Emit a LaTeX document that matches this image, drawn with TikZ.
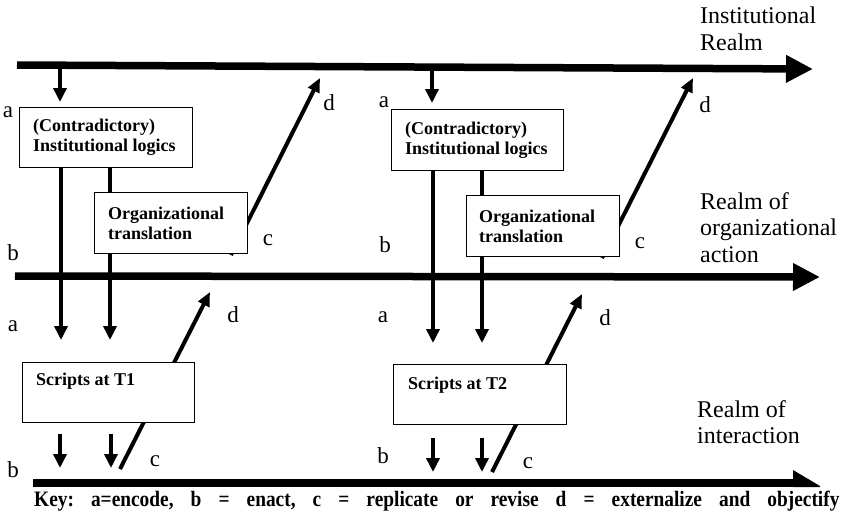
\documentclass[tikz,border=0pt]{standalone}
\usepackage{fontspec}
\usepackage{graphicx}
\setmainfont{Liberation Serif}
\usetikzlibrary{arrows.meta}
\begin{document}
\begin{tikzpicture}[x=1pt,y=-1pt,
  bar/.style={line width=7.5pt,-{Triangle[length=27pt,width=26pt]}},
  varrow/.style={line width=4pt,-{Triangle[length=14pt,width=13pt]}},
  darrow/.style={line width=4pt,-{Triangle[length=14pt,width=12pt]}},
  box/.style={draw,line width=0.9pt,fill=white,inner sep=0pt,anchor=north west},
  boxtext/.style={font=\fontsize{18}{20}\selectfont\bfseries,align=left,inner sep=0pt},
  lbl/.style={font=\fontsize{23}{26.5}\selectfont,inner sep=0pt},
  realm/.style={font=\fontsize{24}{26.5}\selectfont,align=left,inner sep=0pt,anchor=north west}
]
\useasboundingbox (0,0) rectangle (849,520);
% realm bars
\coordinate (I0) at (17,65); \coordinate (I1) at (813,69);
\coordinate (O0) at (15,276); \coordinate (O1) at (820,277);
\coordinate (R0) at (33,483); \coordinate (R1) at (795,483);
\draw[bar] (I0) -- (I1);
\draw[bar] (O0) -- (O1);
\draw[line width=8pt] (R0) -- (R1);
\fill (793,470) -- (820,486) -- (820,487) -- (793,487) -- cycle;

% ---------- set 1 ----------
\coordinate (L1in) at (60,102);
\coordinate (s1a) at (61,340); \coordinate (s1b) at (110,340);
\coordinate (c1) at (231,255); \coordinate (d1) at (320,78);
\coordinate (c1s) at (120,469); \coordinate (d1s) at (210,292);
\coordinate (e1a) at (60,468); \coordinate (e1b) at (111,468);
\draw[varrow] (I0 -| L1in) -- (L1in);
\draw[varrow] (61,167) -- (s1a);
\draw[varrow] (110,167) -- (s1b);
\draw[darrow] (c1) -- (d1);
\draw[darrow] (c1s) -- (d1s);
\node[box,minimum width=173pt,minimum height=60pt] (L1) at (19,107) {};
\node[box,minimum width=153pt,minimum height=61pt] (Org1) at (94,192) {};
\node[box,minimum width=172pt,minimum height=60pt] (S1) at (22,362) {};
\draw[varrow] ([yshift=-11pt]S1.south -| e1a) -- (e1a);
\draw[varrow] ([yshift=-11pt]S1.south -| e1b) -- (e1b);
\node[boxtext,anchor=west] (L1t) at ([xshift=14pt]L1.west) {(Contradictory)\\Institutional logics};
\node[boxtext,anchor=west] (Org1t) at ([xshift=14pt]Org1.west) {Organizational\\translation};
\node[boxtext,anchor=west] (S1t) at ([xshift=14pt,yshift=-19pt]S1.north west) {Scripts at T1};

% ---------- set 2 ----------
\coordinate (L2in) at (432,103);
\coordinate (s2a) at (433,343); \coordinate (s2b) at (482,343);
\coordinate (c2) at (602,258); \coordinate (d2) at (693,78);
\coordinate (c2s) at (492,472); \coordinate (d2s) at (582,294);
\coordinate (e2a) at (433,472); \coordinate (e2b) at (482,472);
\draw[varrow] (I0 -| L2in) -- (L2in);
\draw[varrow] (433,170) -- (s2a);
\draw[varrow] (482,170) -- (s2b);
\draw[darrow] (c2) -- (d2);
\draw[darrow] (c2s) -- (d2s);
\node[box,minimum width=172pt,minimum height=61pt] (L2) at (391,109) {};
\node[box,minimum width=153pt,minimum height=61pt] (Org2) at (466,195) {};
\node[box,minimum width=173pt,minimum height=60pt] (S2) at (393,364) {};
\draw[varrow] ([yshift=-13pt]S2.south -| e2a) -- (e2a);
\draw[varrow] ([yshift=-13pt]S2.south -| e2b) -- (e2b);
\node[boxtext,anchor=west] (L2t) at ([xshift=14pt]L2.west) {(Contradictory)\\Institutional logics};
\node[boxtext,anchor=west] (Org2t) at ([xshift=13pt]Org2.west) {Organizational\\translation};
\node[boxtext,anchor=west] (S2t) at ([xshift=15pt,yshift=-21pt]S2.north west) {Scripts at T2};

% ---------- letter labels ----------
\node[lbl] (la1) at (8,112) {a};
\node[lbl] (ld1) at (329,103) {d};
\node[lbl] (lc1) at (268,240) {c};
\node[lbl] (lb1) at (13,253) {b};
\node[lbl] (la1s) at (13,326) {a};
\node[lbl] (ld1s) at (233,315) {d};
\node[lbl] (lb1s) at (13,470) {b};
\node[lbl] (lc1s) at (155,461) {c};
\node[lbl] (la2) at (384,102) {a};
\node[lbl] (ld2) at (705,105) {d};
\node[lbl] (lc2) at (640,243) {c};
\node[lbl] (lb2) at (385,245) {b};
\node[lbl] (la2s) at (383,317) {a};
\node[lbl] (ld2s) at (605,318) {d};
\node[lbl] (lb2s) at (383,456) {b};
\node[lbl] (lc2s) at (528,463) {c};

% ---------- realm labels ----------
\node[realm] (RI) at (700,7) {Institutional\\Realm};
\node[realm] (RO) at (700,192) {Realm of\\organizational\\action};
\node[realm] (RX) at (697,400) {Realm of\\interaction};

% ---------- key ----------
\node[font=\fontsize{22}{24}\selectfont\bfseries,inner sep=0pt,anchor=west] (key) at (34,501)
  {\frenchspacing\scalebox{0.88}[1]{\makebox[915pt][s]{Key: a=encode, b = enact, c = replicate or revise d = externalize and objectify}}};
\end{tikzpicture}
\end{document}
